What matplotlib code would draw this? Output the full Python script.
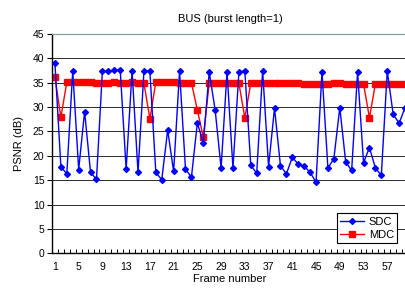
import numpy as np
import matplotlib
matplotlib.use('Agg')
import matplotlib.pyplot as plt

plt.rcParams['font.family'] = ['Liberation Sans', 'DejaVu Sans']

frames = np.arange(1, 61)

sdc = [39.0, 17.8, 16.3, 37.4, 17.2, 29.1, 16.6, 15.2, 37.4, 37.4,
       37.6, 37.6, 17.3, 37.4, 16.6, 37.4, 37.4, 16.6, 15.1, 25.3,
       16.8, 37.4, 17.3, 15.6, 26.8, 22.6, 37.2, 29.4, 17.5, 37.2,
       17.5, 37.2, 37.4, 18.1, 16.4, 37.4, 17.8, 29.8, 18.0, 16.3,
       19.7, 18.3, 17.9, 16.6, 14.6, 37.2, 17.5, 19.4, 29.9, 18.7,
       17.0, 37.2, 18.6, 21.7, 17.5, 16.0, 37.4, 28.5, 26.7, 29.9]

mdc = [36.1, 27.9, 35.1, 35.1, 35.1, 35.1, 35.1, 35.0, 34.9, 35.0,
       35.1, 34.9, 35.0, 35.1, 34.9, 34.9, 27.6, 35.1, 35.1, 35.1,
       35.1, 35.0, 35.0, 35.0, 29.4, 23.8, 35.0, 35.0, 34.9, 34.9,
       34.9, 34.9, 27.8, 34.9, 34.9, 34.9, 34.9, 34.9, 34.9, 34.9,
       34.9, 34.9, 34.8, 34.8, 34.8, 34.8, 34.8, 34.9, 34.9, 34.8,
       34.8, 34.8, 34.8, 27.8, 34.8, 34.8, 34.8, 34.8, 34.8, 34.8]

xtick_labels = list(range(1, 58, 4))

fig = plt.figure(figsize=(4.06, 2.97), dpi=100)
ax = fig.add_axes([0.128, 0.147, 0.877, 0.7385])

ax.plot(frames, sdc, color='#0000ff', lw=1, marker='D', ms=3, label='SDC', zorder=3)
ax.plot(frames, mdc, color='#ff0000', lw=1, marker='s', ms=4.2, label='MDC', zorder=2)

ax.set_xlim(0.5, 60.5)
ax.set_ylim(0, 45)
ax.set_yticks(range(0, 46, 5))
ax.set_xticks(xtick_labels)
ax.set_xticks(np.arange(0.5, 61, 1), minor=True)
ax.tick_params(axis='x', which='major', length=0, labelsize=7.5, pad=6)
ax.tick_params(axis='x', which='minor', direction='in', length=3, width=0.7)
ax.tick_params(axis='y', direction='out', length=3.5, width=0.8, labelsize=7.5, pad=2)

ax.yaxis.grid(True, color='#2a2a2a', lw=0.7)
ax.set_axisbelow(True)
ax.spines['right'].set_visible(False)
ax.spines['top'].set_color('#7a9a9a')
ax.spines['left'].set_linewidth(1)
ax.spines['bottom'].set_linewidth(1)

ax.set_title('BUS (burst length=1)', fontsize=8, pad=9)
ax.set_xlabel('Frame number', fontsize=8, labelpad=2)
ax.set_ylabel('PSNR (dB)', fontsize=8, labelpad=6)

leg = ax.legend(loc='lower right', bbox_to_anchor=(0.97, 0.045), fontsize=8,
                fancybox=False, framealpha=1, edgecolor='black', handlelength=2.2,
                borderpad=0.3, labelspacing=0.3, handletextpad=0.4,
                borderaxespad=0)
leg.get_frame().set_linewidth(0.8)

fig.savefig('out.png', dpi=100)
